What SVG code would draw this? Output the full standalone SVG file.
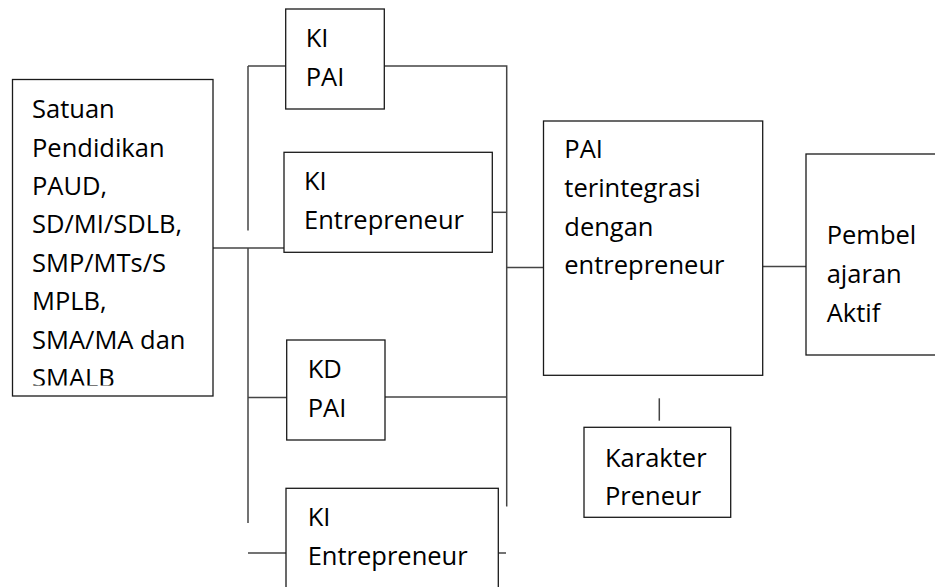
<svg xmlns="http://www.w3.org/2000/svg" width="935" height="587" viewBox="0 0 935 587">
<style>
.box{fill:#fff;stroke:#1a1a1a;stroke-width:1.3}
.ln{fill:none;stroke:#444;stroke-width:1.5}
.t{font-family:"Open Sans","Noto Sans","Liberation Sans",sans-serif;font-size:25.5px;fill:#000}
</style>
<defs>
<clipPath id="clipSat"><rect x="12" y="79" width="201" height="306.5"/></clipPath>
</defs>
<rect width="935" height="587" fill="#fff"/>
<g id="connectors">
<path class="ln" d="M213 248H284"/>
<path class="ln" d="M248 66V230.5"/>
<path class="ln" d="M248 66H286"/>
<path class="ln" d="M248 248V523"/>
<path class="ln" d="M248 397.5H287"/>
<path class="ln" d="M248 553H286"/>
<path class="ln" d="M384 66H506.7V268"/>
<path class="ln" d="M492 212.3H506.7"/>
<path class="ln" d="M506.7 268V506.5"/>
<path class="ln" d="M506.7 267.5H543.5"/>
<path class="ln" d="M385 397H506.7"/>
<path class="ln" d="M498 553H506"/>
<path class="ln" d="M762.7 266.5H806"/>
<path class="ln" d="M659.3 398.3V420.7"/>
</g>
<g id="satuan">
<rect class="box" x="12.5" y="79.5" width="200.5" height="316.5"/>
<g clip-path="url(#clipSat)">
<text class="t" x="32" y="118.3">Satuan</text>
<text class="t" x="32" y="156.7">Pendidikan</text>
<text class="t" x="32" y="195">PAUD,</text>
<text class="t" x="32" y="233.4">SD/MI/SDLB,</text>
<text class="t" x="32" y="271.8">SMP/MTs/S</text>
<text class="t" x="32" y="310.2">MPLB,</text>
<text class="t" x="32" y="348.6">SMA/MA dan</text>
<text class="t" x="32" y="387">SMALB</text>
</g>
</g>
<g id="ki-pai">
<rect class="box" x="285.7" y="9" width="98.6" height="100"/>
<text class="t" x="305.7" y="47.3">KI</text>
<text class="t" x="305.7" y="86">PAI</text>
</g>
<g id="ki-entrepreneur-1">
<rect class="box" x="284" y="152.3" width="208.3" height="100"/>
<text class="t" x="304" y="190.3">KI</text>
<text class="t" x="304" y="229">Entrepreneur</text>
</g>
<g id="kd-pai">
<rect class="box" x="286.7" y="340" width="98.3" height="100"/>
<text class="t" x="307.7" y="378.3">KD</text>
<text class="t" x="307.7" y="416.7">PAI</text>
</g>
<g id="ki-entrepreneur-2">
<rect class="box" x="286" y="488.3" width="212.3" height="110"/>
<text class="t" x="307.7" y="526">KI</text>
<text class="t" x="307.7" y="565">Entrepreneur</text>
</g>
<g id="pai-terintegrasi">
<rect class="box" x="543.5" y="121" width="219.2" height="254.3"/>
<text class="t" x="564.3" y="158.3">PAI</text>
<text class="t" x="564.3" y="197.2">terintegrasi</text>
<text class="t" x="564.3" y="235.8">dengan</text>
<text class="t" x="564.3" y="274.3">entrepreneur</text>
</g>
<g id="pembelajaran-aktif">
<rect class="box" x="806" y="154" width="140" height="201"/>
<text class="t" x="826.7" y="244">Pembel</text>
<text class="t" x="826.7" y="282.7">ajaran</text>
<text class="t" x="826.7" y="321.5">Aktif</text>
</g>
<g id="karakter-preneur">
<rect class="box" x="584" y="427.3" width="146.7" height="90"/>
<text class="t" x="605" y="467.3">Karakter</text>
<text class="t" x="605" y="504.5">Preneur</text>
</g>
</svg>
